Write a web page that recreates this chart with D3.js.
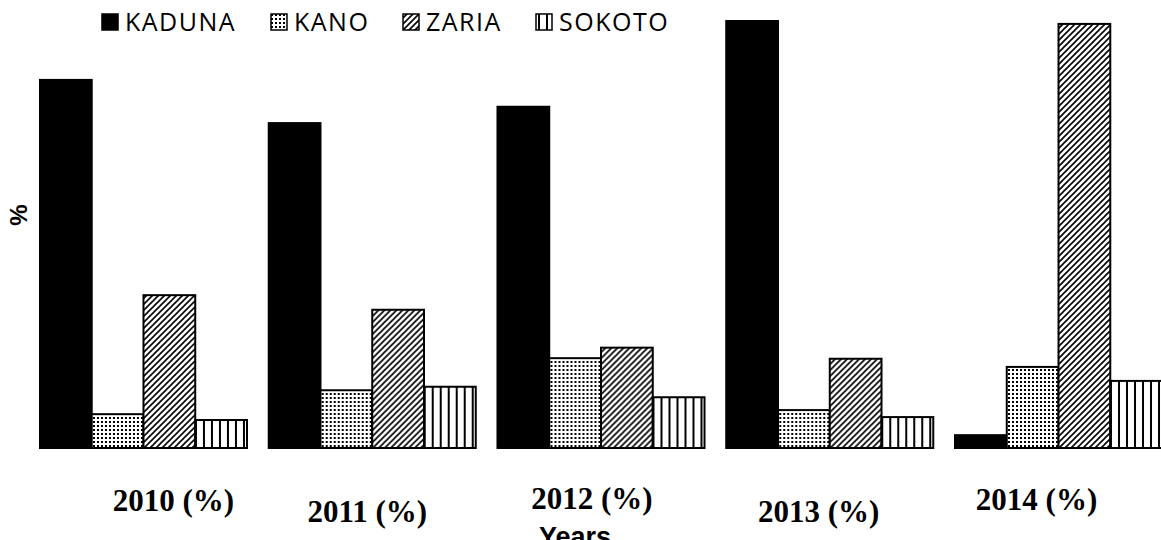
<!DOCTYPE html>
<html>
<head>
<meta charset="utf-8">
<script src="https://cdn.jsdelivr.net/npm/d3@7"></script>
<style>
  body { margin: 0; background: #fff; }
  svg { display: block; }
</style>
</head>
<body>
<svg id="chart" width="1161" height="540"></svg>
<script>
let years = ['2010 (%)', '2011 (%)', '2012 (%)', '2013 (%)', '2014 (%)'];
let series = ['KADUNA', 'KANO', 'ZARIA', 'SOKOTO'];
let kaduna = [63.1, 55.7, 58.5, 73.2, 2.2];
let kano = [5.8, 9.9, 15.4, 6.5, 13.9];
let zaria = [26.2, 23.7, 17.2, 15.3, 72.7];
let sokoto = [4.8, 10.5, 8.7, 5.3, 11.5];

// year labels sit in loose text boxes: offset from group centre, baseline
let labelNudge = [[30, 511], [-5, 522], [-9, 509], [-11, 522], [-22, 510]];

let values = {KADUNA: kaduna, KANO: kano, ZARIA: zaria, SOKOTO: sokoto};
let fills = {KADUNA: '#000', KANO: 'url(#dots)', ZARIA: 'url(#diag)', SOKOTO: 'url(#vert)'};

let svg = d3.select('#chart');
let baseY = 448;

let x0 = d3.scaleBand()
    .domain(years)
    .range([29.1, 1172.9])
    .paddingInner(0.095)
    .paddingOuter(0.0475);
let x1 = d3.scaleBand()
    .domain(series)
    .range([0, x0.bandwidth()]);
let y = d3.scaleLinear()
    .domain([0, 76.8])
    .range([baseY, 0]);

let defs = svg.append('defs');
let dots = defs.append('pattern').attr('id', 'dots')
    .attr('patternUnits', 'userSpaceOnUse').attr('width', 4).attr('height', 4);
dots.append('rect').attr('width', 4).attr('height', 4).attr('fill', '#fff');
dots.append('rect').attr('x', 1).attr('y', 1).attr('width', 2).attr('height', 2).attr('fill', '#000');

let diag = defs.append('pattern').attr('id', 'diag')
    .attr('patternUnits', 'userSpaceOnUse').attr('width', 6).attr('height', 6);
diag.append('rect').attr('width', 6).attr('height', 6).attr('fill', '#fff');
diag.append('path').attr('d', 'M0,6L6,0M-1,1L1,-1M5,7L7,5')
    .attr('stroke', '#000').attr('stroke-width', 1.6);

let vert = defs.append('pattern').attr('id', 'vert')
    .attr('patternUnits', 'userSpaceOnUse').attr('width', 8).attr('height', 8);
vert.append('rect').attr('width', 8).attr('height', 8).attr('fill', '#fff');
vert.append('rect').attr('x', 3).attr('width', 2).attr('height', 8).attr('fill', '#000');

let groups = svg.append('g').selectAll('g')
    .data(years)
    .enter()
    .append('g')
    .attr('transform', function(d){ return 'translate(' + x0(d) + ',0)'; });

groups.selectAll('rect')
    .data(function(d, i){
        return series.map(function(s){ return {key: s, value: values[s][i]}; });
    })
    .enter()
    .append('rect')
    .attr('x', function(d){ return x1(d.key); })
    .attr('y', function(d){ return y(d.value); })
    .attr('width', x1.bandwidth())
    .attr('height', function(d){ return baseY - y(d.value); })
    .style('fill', function(d){ return fills[d.key]; })
    .attr('stroke', '#000')
    .attr('stroke-width', 2);

svg.append('g').selectAll('text')
    .data(years)
    .enter()
    .append('text')
    .attr('x', function(d, i){ return x0(d) + x0.bandwidth() / 2 + labelNudge[i][0]; })
    .attr('y', function(d, i){ return labelNudge[i][1]; })
    .attr('text-anchor', 'middle')
    .style('font-family', '"Liberation Serif", "Times New Roman", serif')
    .style('font-weight', 'bold')
    .style('font-size', '31px')
    .text(function(d){ return d; });

svg.append('text')
    .attr('x', 575)
    .attr('y', 546)
    .attr('text-anchor', 'middle')
    .style('font-family', '"Liberation Sans", Arial, sans-serif')
    .style('font-weight', 'bold')
    .style('font-size', '27px')
    .text('Years');

svg.append('text')
    .attr('transform', 'translate(27,215) rotate(-90)')
    .attr('text-anchor', 'middle')
    .style('font-family', '"Liberation Sans", Arial, sans-serif')
    .style('font-weight', 'bold')
    .style('font-size', '24px')
    .text('%');

// legend
let legendX = [101, 270, 402, 535];
let legend = svg.append('g').selectAll('g')
    .data(series)
    .enter()
    .append('g')
    .attr('transform', function(d, i){ return 'translate(' + legendX[i] + ',13)'; });
legend.append('rect')
    .attr('x', 1).attr('y', 1)
    .attr('width', 16).attr('height', 16)
    .style('fill', function(d){ return fills[d]; })
    .attr('stroke', '#000')
    .attr('stroke-width', 1.5);
legend.append('text')
    .attr('x', 24)
    .attr('y', 17.5)
    .style('font-family', '"Open Sans", sans-serif')
    .style('font-size', '25px')
    .style('letter-spacing', '1.5px')
    .text(function(d){ return d; });
</script>
</body>
</html>
